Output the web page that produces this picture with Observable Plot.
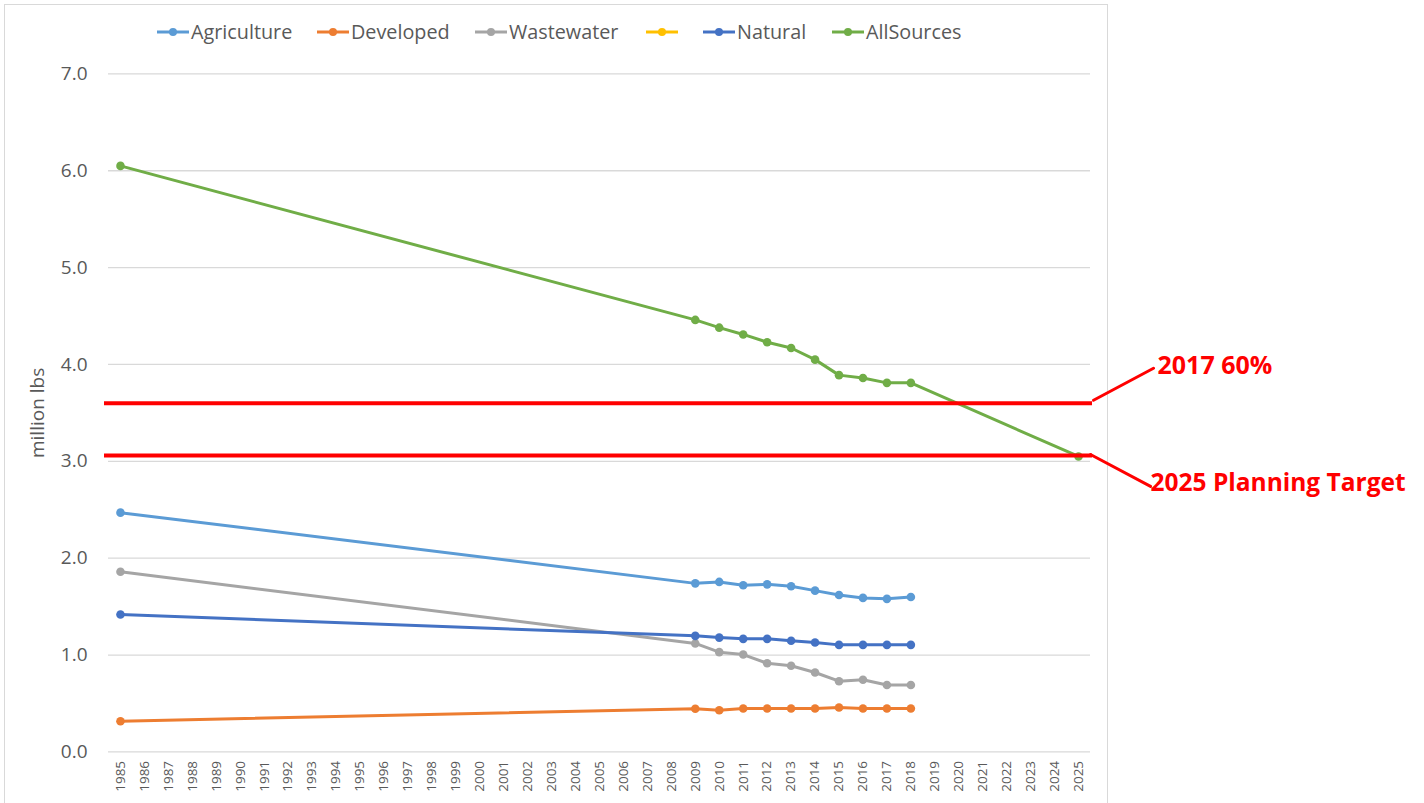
<!DOCTYPE html>
<html>
<head>
<meta charset="utf-8">
<script src="https://cdn.jsdelivr.net/npm/d3@7"></script>
<script src="https://cdn.jsdelivr.net/npm/@observablehq/plot@0.6"></script>
<style>
  body { margin: 0; background: #fff; font-family: "Open Sans", sans-serif; }
  #frame { position: absolute; left: 4px; top: 4px; width: 1102px; height: 830px; border: 1px solid #d9d9d9; pointer-events: none; }
  #legend { position: relative; height: 50px; }
  .item { position: absolute; top: 20px; height: 24px; display: flex; align-items: center; }
  .item span { font-size: 19.8px; color: #595959; margin-left: 2px; line-height: 1; white-space: nowrap; }
  #chart { position: relative; }
</style>
</head>
<body>
<div id="frame"></div>
<div id="legend"></div>
<div id="chart"></div>
<script>
// ---- data ----
const tickYears = [1985, 1986, 1987, 1988, 1989, 1990, 1991, 1992, 1993, 1994, 1995, 1996, 1997, 1998, 1999,
  2000, 2001, 2002, 2003, 2004, 2005, 2006, 2007, 2008, 2009, 2010, 2011, 2012, 2013, 2014, 2015, 2016,
  2017, 2018, 2019, 2020, 2021, 2022, 2023, 2024, 2025];
const yTicks = [0, 1, 2, 3, 4, 5, 6, 7];

const seriesNames = ["Agriculture", "Developed", "Wastewater", "", "Natural", "AllSources"];
const seriesColors = ["#5B9BD5", "#ED7D31", "#A5A5A5", "#FFC000", "#4472C4", "#70AD47"];

const sourceYears = [1985, 2009, 2010, 2011, 2012, 2013, 2014, 2015, 2016, 2017, 2018];
const agriculture = [2.47, 1.74, 1.755, 1.72, 1.73, 1.71, 1.665, 1.62, 1.59, 1.58, 1.60];
const developed   = [0.317, 0.445, 0.43, 0.448, 0.448, 0.448, 0.448, 0.458, 0.448, 0.448, 0.448];
const wastewater  = [1.86, 1.12, 1.03, 1.005, 0.915, 0.89, 0.82, 0.73, 0.745, 0.69, 0.69];
const unnamed     = [];
const natural     = [1.418, 1.198, 1.18, 1.167, 1.167, 1.147, 1.13, 1.105, 1.105, 1.105, 1.105];

const allSourcesYears = [1985, 2009, 2010, 2011, 2012, 2013, 2014, 2015, 2016, 2017, 2018, 2025];
const allSources = [6.05, 4.46, 4.38, 4.31, 4.23, 4.17, 4.05, 3.89, 3.86, 3.81, 3.81, 3.05];

const targetLabels = ["2017 60%", "2025 Planning Target"];
const targetValues = [3.60, 3.06];

// ---- build records ----
const seriesValues = [agriculture, developed, wastewater, unnamed, natural, allSources];
const seriesYears = [sourceYears, sourceYears, sourceYears, sourceYears, sourceYears, allSourcesYears];
const records = [];
seriesNames.forEach((name, si) => {
  seriesValues[si].forEach((v, i) => records.push({series: si, year: seriesYears[si][i], value: v}));
});
const targets = targetLabels.map((label, i) => ({label, value: targetValues[i]}));

// ---- legend (layout offsets for each entry) ----
const legendLeft = [157, 317, 475, 646, 703, 832];
const legend = document.getElementById("legend");
seriesNames.forEach((name, i) => {
  const item = document.createElement("div");
  item.className = "item";
  item.style.left = legendLeft[i] + "px";
  item.innerHTML = `<svg width="32" height="12"><line x1="0" x2="32" y1="6" y2="6" stroke="${seriesColors[i]}" stroke-width="3"/><circle cx="16" cy="6" r="4" fill="${seriesColors[i]}"/></svg><span>${name}</span>`;
  legend.appendChild(item);
});

// ---- chart ----
const red = "#FF0000";
const leaderShape = {draw(context, l) { context.moveTo(0, 0); context.lineTo(0, -l); }};
const chart = Plot.plot({
  width: 1424,
  height: 753,
  marginLeft: 108,
  marginRight: 334,
  marginTop: 23.4,
  marginBottom: 51.6,
  style: {fontFamily: "Open Sans", background: "transparent", overflow: "visible"},
  x: {type: "linear", domain: [1984.5, 2025.5]},
  y: {domain: [0, 7]},
  color: {domain: seriesNames.map((d, i) => i), range: seriesColors},
  marks: [
    Plot.gridY(yTicks, {stroke: "#d9d9d9", strokeOpacity: 1, strokeWidth: 1.3}),
    Plot.axisY(yTicks, {tickSize: 0, tickPadding: 21, fontSize: 19, fill: "#595959",
      tickFormat: d3.format(".1f"), label: "million lbs", labelAnchor: "center", labelArrow: "none", labelOffset: 78}),
    Plot.axisX(tickYears, {tickSize: 0, tickPadding: 9, tickRotate: -90, textAnchor: "end", fontSize: 13.5,
      fill: "#595959", tickFormat: d => String(d), label: null}),
    Plot.line(records, {x: "year", y: "value", z: "series", stroke: "series", strokeWidth: 3, curve: "linear"}),
    Plot.dot(records, {x: "year", y: "value", fill: "series", r: 4.3, stroke: "none"}),
    Plot.ruleY(targets, {y: "value", stroke: red, strokeWidth: 4, insetLeft: -4, insetRight: -2}),
    Plot.vector(targets.slice(0, 1), {y: "value", frameAnchor: "right", anchor: "start", length: 68, rotate: 62,
      shape: leaderShape, stroke: red, strokeWidth: 3, dx: 3, dy: -3}),
    Plot.vector(targets.slice(1), {y: "value", frameAnchor: "right", anchor: "start", length: 68, rotate: 118,
      shape: leaderShape, stroke: red, strokeWidth: 3, dx: 0, dy: -1}),
    Plot.text(targets.slice(0, 1), {y: "value", text: "label", frameAnchor: "right", textAnchor: "start",
      dx: 67, dy: -37, fill: red, fontWeight: "bold", fontSize: 25}),
    Plot.text(targets.slice(1), {y: "value", text: "label", frameAnchor: "right", textAnchor: "start",
      dx: 60, dy: 28, fill: red, fontWeight: "bold", fontSize: 24.5})
  ]
});
document.getElementById("chart").appendChild(chart);
</script>
</body>
</html>
